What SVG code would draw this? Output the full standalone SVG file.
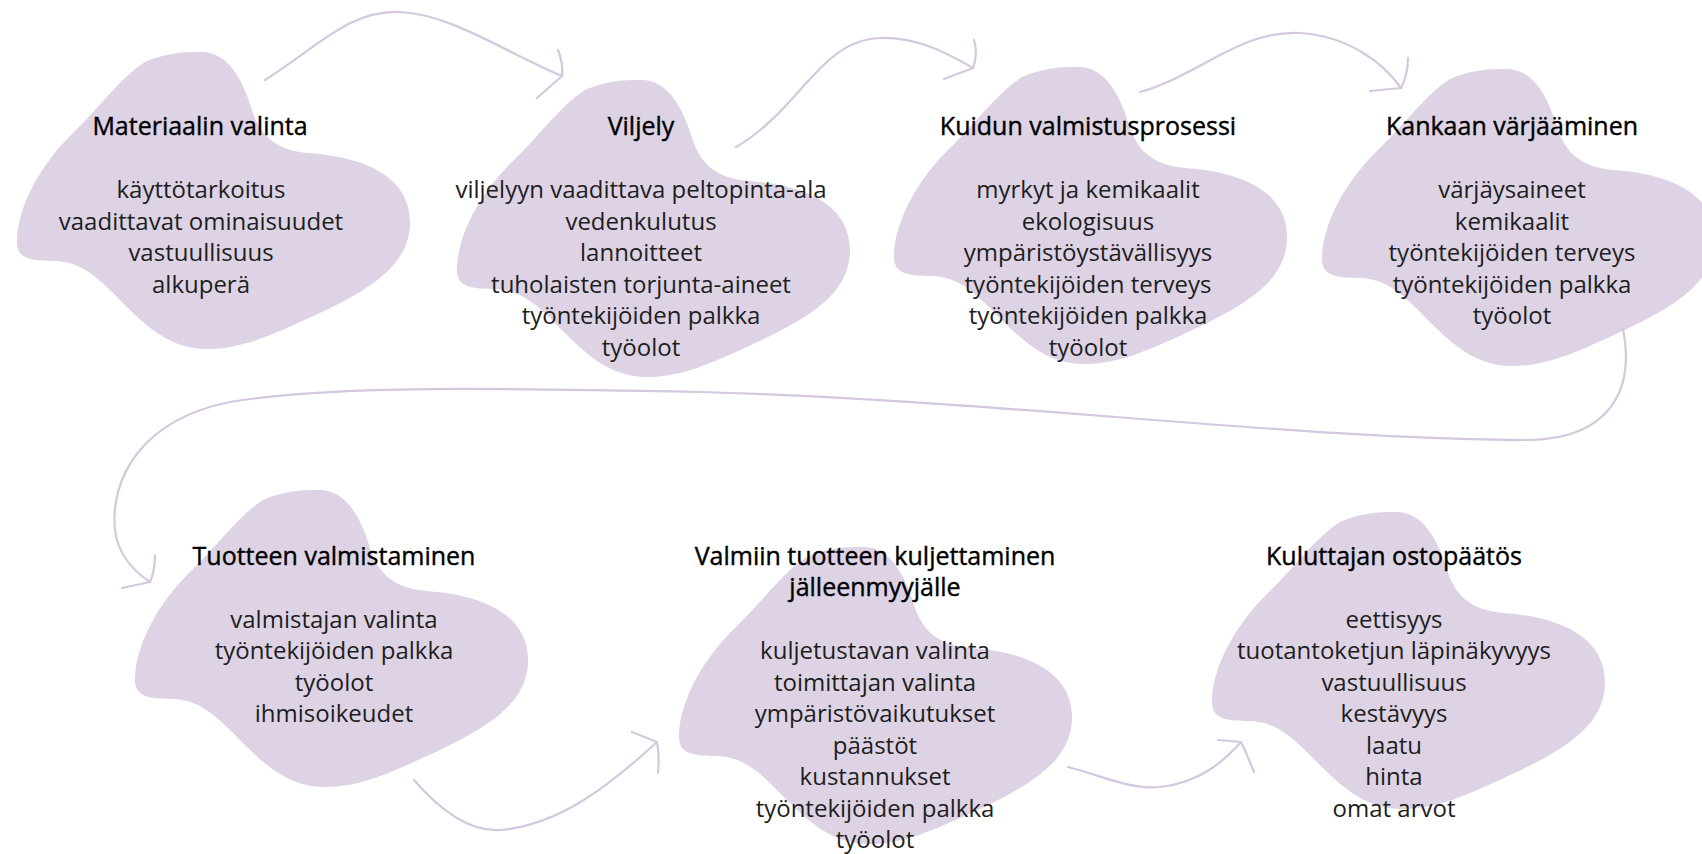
<svg xmlns="http://www.w3.org/2000/svg" xmlns:xlink="http://www.w3.org/1999/xlink" width="1702" height="854" viewBox="0 0 1702 854">
<style>
.blob{fill:#DDD3E4;}
.t{font-family:"Open Sans","Noto Sans","Liberation Sans",sans-serif;font-size:25px;fill:#000;stroke:#000;stroke-width:0.4;text-anchor:middle;}
.i{font-family:"Open Sans","Noto Sans","Liberation Sans",sans-serif;font-size:24px;fill:#1e1e1e;text-anchor:middle;}
.c{fill:none;stroke:#D4C8DF;stroke-width:2.2;stroke-linecap:round;stroke-linejoin:round;}
</style>
<defs>
<path id="blob" d="M 200 52 C 228 51, 243 80, 252 110 C 260 135, 275 150, 308 153 C 355 156, 412 172, 410 225 C 408 265, 372 288, 322 312 C 282 330, 245 350, 205 349 C 165 348, 140 320, 115 295 C 95 275, 80 262, 55 261 C 35 260, 15 262, 17 238 C 19 205, 40 165, 73 133 C 100 107, 120 78, 145 62 C 165 53, 182 52, 200 52 Z"/>
</defs>
<rect width="1702" height="854" fill="#FFFFFF"/>

<g id="node-materiaalin-valinta">
<use xlink:href="#blob" class="blob"/>
<text class="t" x="200" y="135">Materiaalin valinta</text>
<text class="i" x="201" y="198">käyttötarkoitus</text>
<text class="i" x="201" y="229.5">vaadittavat ominaisuudet</text>
<text class="i" x="201" y="261">vastuullisuus</text>
<text class="i" x="201" y="292.5">alkuperä</text>
</g>

<g id="node-viljely">
<use xlink:href="#blob" class="blob" transform="translate(440,28)"/>
<text class="t" x="641" y="135">Viljely</text>
<text class="i" x="641" y="198">viljelyyn vaadittava peltopinta-ala</text>
<text class="i" x="641" y="229.5">vedenkulutus</text>
<text class="i" x="641" y="261">lannoitteet</text>
<text class="i" x="641" y="292.5">tuholaisten torjunta-aineet</text>
<text class="i" x="641" y="324">työntekijöiden palkka</text>
<text class="i" x="641" y="355.5">työolot</text>
</g>

<g id="node-kuidun-valmistusprosessi">
<use xlink:href="#blob" class="blob" transform="translate(877,15)"/>
<text class="t" x="1088" y="135">Kuidun valmistusprosessi</text>
<text class="i" x="1088" y="198">myrkyt ja kemikaalit</text>
<text class="i" x="1088" y="229.5">ekologisuus</text>
<text class="i" x="1088" y="261">ympäristöystävällisyys</text>
<text class="i" x="1088" y="292.5">työntekijöiden terveys</text>
<text class="i" x="1088" y="324">työntekijöiden palkka</text>
<text class="i" x="1088" y="355.5">työolot</text>
</g>

<g id="node-kankaan-varjaaminen">
<use xlink:href="#blob" class="blob" transform="translate(1305,17)"/>
<text class="t" x="1512" y="135">Kankaan värjääminen</text>
<text class="i" x="1512" y="198">värjäysaineet</text>
<text class="i" x="1512" y="229.5">kemikaalit</text>
<text class="i" x="1512" y="261">työntekijöiden terveys</text>
<text class="i" x="1512" y="292.5">työntekijöiden palkka</text>
<text class="i" x="1512" y="324">työolot</text>
</g>

<g id="node-tuotteen-valmistaminen">
<use xlink:href="#blob" class="blob" transform="translate(118,438)"/>
<text class="t" x="334" y="564.5">Tuotteen valmistaminen</text>
<text class="i" x="334" y="627.5">valmistajan valinta</text>
<text class="i" x="334" y="659">työntekijöiden palkka</text>
<text class="i" x="334" y="690.5">työolot</text>
<text class="i" x="334" y="722">ihmisoikeudet</text>
</g>

<g id="node-valmiin-tuotteen-kuljettaminen">
<use xlink:href="#blob" class="blob" transform="translate(662,495)"/>
<text class="t" x="875" y="564.5">Valmiin tuotteen kuljettaminen</text>
<text class="t" x="875" y="596">jälleenmyyjälle</text>
<text class="i" x="875" y="659">kuljetustavan valinta</text>
<text class="i" x="875" y="690.5">toimittajan valinta</text>
<text class="i" x="875" y="722">ympäristövaikutukset</text>
<text class="i" x="875" y="753.5">päästöt</text>
<text class="i" x="875" y="785">kustannukset</text>
<text class="i" x="875" y="816.5">työntekijöiden palkka</text>
<text class="i" x="875" y="848">työolot</text>
</g>

<g id="node-kuluttajan-ostopaatos">
<use xlink:href="#blob" class="blob" transform="translate(1195,460)"/>
<text class="t" x="1394" y="564.5">Kuluttajan ostopäätös</text>
<text class="i" x="1394" y="627.5">eettisyys</text>
<text class="i" x="1394" y="659">tuotantoketjun läpinäkyvyys</text>
<text class="i" x="1394" y="690.5">vastuullisuus</text>
<text class="i" x="1394" y="722">kestävyys</text>
<text class="i" x="1394" y="753.5">laatu</text>
<text class="i" x="1394" y="785">hinta</text>
<text class="i" x="1394" y="816.5">omat arvot</text>
</g>

<g id="connectors">
<path class="c" d="M 265 80 C 320 45, 350 10, 400 12 C 450 14, 505 52, 562 76"/>
<path class="c" d="M 558 50 C 562 60, 563 68, 562 76 L 537 98"/>
<path class="c" d="M 736 147 C 800 110, 820 40, 880 38 C 920 37, 950 55, 973 68"/>
<path class="c" d="M 974 40 C 977 50, 976 60, 973 68 L 944 79"/>
<path class="c" d="M 1140 92 C 1200 75, 1240 30, 1300 33 C 1350 36, 1385 65, 1401 88"/>
<path class="c" d="M 1408 58 C 1408 70, 1405 80, 1401 88 L 1370 91"/>
<path class="c" d="M 1623 329 C 1635 390, 1610 438, 1530 440 C 1300 440, 1000 400, 700 392 C 500 388, 330 385, 230 402 C 140 420, 110 480, 115 530 C 118 555, 135 572, 150 582"/>
<path class="c" d="M 155 555 C 155 565, 153 575, 150 582 L 122 588"/>
<path class="c" d="M 414 780 C 440 810, 470 832, 500 830 C 560 825, 610 785, 657 742"/>
<path class="c" d="M 632 732 L 657 742 C 659 752, 659 763, 658 773"/>
<path class="c" d="M 1068 767 C 1100 775, 1130 790, 1160 787 C 1200 783, 1225 760, 1241 742"/>
<path class="c" d="M 1218 740 L 1241 742 C 1246 752, 1250 762, 1254 772"/>
</g>
</svg>
